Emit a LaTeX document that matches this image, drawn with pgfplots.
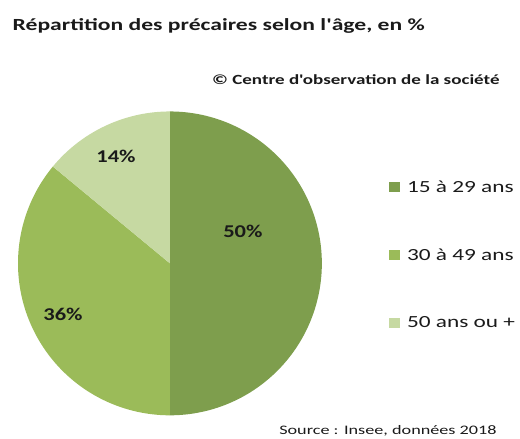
\documentclass[border=0pt]{standalone}
\usepackage{pgfplots}
\pgfplotsset{compat=1.18}
\usepackage{pgfplotstable}
\usepackage{graphicx}
\usepackage{fontspec}
\setmainfont{Carlito}[Ligatures=TeXOff]
\definecolor{cA}{HTML}{7E9E4D}
\definecolor{cB}{HTML}{9BBB59}
\definecolor{cC}{HTML}{C6D9A2}
\definecolor{txt}{HTML}{1A1A1A}
\pgfplotstableread{
label value
1 50
2 36
3 14
}\piedata
\pgfplotstablegetelem{0}{value}\of\piedata\let\vA\pgfplotsretval
\pgfplotstablegetelem{1}{value}\of\piedata\let\vB\pgfplotsretval
\pgfplotstablegetelem{2}{value}\of\piedata\let\vC\pgfplotsretval
\pgfmathsetmacro\aA{90}
\pgfmathsetmacro\aB{\aA-3.6*\vA}
\pgfmathsetmacro\aC{\aB-3.6*\vB}
\pgfmathsetmacro\aD{\aC-3.6*\vC}
\def\cx{170}\def\cy{175.5}\def\rr{152}
\newcommand\sx[2]{\scalebox{#1}[1]{#2}}
\begin{document}
\begin{tikzpicture}
\begin{axis}[
  scale only axis, width=520pt, height=439pt,
  xmin=0, xmax=520, ymin=0, ymax=439,
  hide axis, clip=false,
  legend style={at={(axis cs:386,184)}, anchor=west, draw=none, fill=none,
    font=\fontsize{17}{19}\selectfont\color{txt}, row sep=51pt,
    cells={anchor=west}},
  legend image code/.code={\fill[#1] (0pt,-5pt) rectangle (11pt,5pt);},
]
\path (rel axis cs:0,0) rectangle (rel axis cs:1,1);
\addplot[fill=cA, draw=none, domain=0:1, samples=120, variable=\t]
  ({\cx+\rr*cos(\aA+(\aB-\aA)*t)},{\cy+\rr*sin(\aA+(\aB-\aA)*t)}) -- (axis cs:\cx,\cy) -- cycle;
\addlegendentry{\hspace{5pt}\sx{1.37}{15 à 29 ans}}
\addplot[fill=cB, draw=none, domain=0:1, samples=120, variable=\t]
  ({\cx+\rr*cos(\aB+(\aC-\aB)*t)},{\cy+\rr*sin(\aB+(\aC-\aB)*t)}) -- (axis cs:\cx,\cy) -- cycle;
\addlegendentry{\hspace{5pt}\sx{1.37}{30 à 49 ans}}
\addplot[fill=cC, draw=none, domain=0:1, samples=80, variable=\t]
  ({\cx+\rr*cos(\aC+(\aD-\aC)*t)},{\cy+\rr*sin(\aC+(\aD-\aC)*t)}) -- (axis cs:\cx,\cy) -- cycle;
\addlegendentry{\hspace{5pt}\sx{1.37}{50 ans ou +}}
\node[font=\fontsize{18}{20}\selectfont\bfseries, text=txt] at (axis cs:243,208) {\sx{1.25}{50\%}};
\node[font=\fontsize{18}{20}\selectfont\bfseries, text=txt] at (axis cs:63,124) {\sx{1.25}{36\%}};
\node[font=\fontsize{18}{20}\selectfont\bfseries, text=txt] at (axis cs:116,282.5) {\sx{1.25}{14\%}};
\node[font=\fontsize{17}{19}\selectfont\bfseries, text=txt, anchor=base west, inner sep=0pt] at (axis cs:12.5,408) {\sx{1.39}{Répartition des précaires selon l'âge, en \%}};
\node[font=\fontsize{14}{16}\selectfont\bfseries, text=txt, anchor=base east, inner sep=0pt] at (axis cs:500,354) {\sx{1.36}{© Centre d'observation de la société}};
\node[font=\fontsize{13}{15}\selectfont, text=txt, anchor=base east, inner sep=0pt] at (axis cs:497,4.5) {\sx{1.40}{Source : Insee, données 2018}};
\end{axis}
\end{tikzpicture}
\end{document}
